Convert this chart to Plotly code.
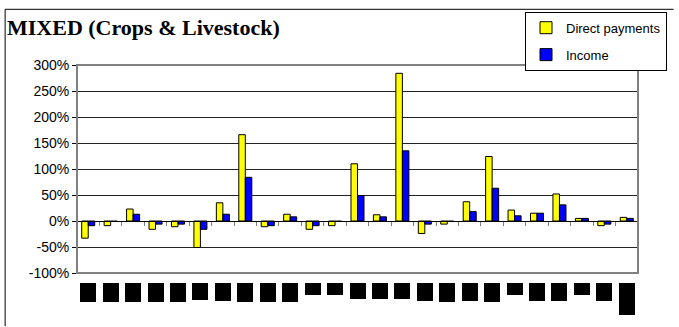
import plotly.graph_objects as go

# Member-state codes (category axis)
countries = ["BE", "CZ", "DK", "DE", "EE", "EL", "ES", "FR", "IE", "IT", "CY", "LV", "LT",
             "LU", "HU", "MT", "NL", "AT", "PL", "PT", "SI", "SK", "FI", "SE", "UK"]

# Change in % for mixed farms
direct_payments = [-33, -9, 23, -16, -11, -51, 35, 166, -11, 13, -16, -9, 110,
                   12, 284, -24, -6, 37, 124, 21, 15, 52, 5, -9, 7]
income = [-9, -1, 13, -6, -6, -16, 13, 84, -9, 8, -9, -1, 49,
          8, 135, -6, -1, 18, 63, 10, 15, 31, 5, -6, 5]

y_ticks = [-100, -50, 0, 50, 100, 150, 200, 250, 300]
y_tick_text = ["-100%", "-50%", "0%", "50%", "100%", "150%", "200%", "250%", "300%"]

# Label box heights (px) for the masked category labels
label_box_h = [19, 19, 19, 19, 19, 17, 18, 19, 19, 19, 12, 12, 16,
               16, 16, 18, 19, 18, 19, 12, 18, 18, 12, 18, 32]

FONT = "Liberation Sans, Arial, sans-serif"

fig = go.Figure()
fig.add_trace(go.Bar(
    x=countries, y=direct_payments, name="Direct payments", legendgroup="a",
    marker=dict(color="#FFFF00", line=dict(color="#000000", width=1)),
))
fig.add_trace(go.Bar(
    x=countries, y=income, name="Income", legendgroup="b",
    marker=dict(color="#0000FF", line=dict(color="#000000", width=1)),
))

W, H = 679, 327
ml, mr, mt, mb = 77, 36, 62, 54
pw, ph = W - ml - mr, H - mt - mb

annotations = []
for c, h in zip(countries, label_box_h):
    annotations.append(dict(
        x=c, xref="x", y=-10 / ph, yref="paper", xanchor="center", yanchor="top",
        text=c, showarrow=False, width=16, height=h, bgcolor="#000000",
        borderpad=0, borderwidth=0, font=dict(color="#000000", size=8, family=FONT),
    ))

fx0 = (4.5 - ml) / pw
fy1 = (H - mb - 5.5) / ph
shapes = [
    # plot-area border
    dict(type="rect", xref="paper", yref="paper", x0=0, x1=1, y0=0, y1=1,
         line=dict(color="#808080", width=2), layer="above"),
    # outer chart frame: left and top edges
    dict(type="line", xref="paper", yref="paper", x0=fx0, x1=fx0,
         y0=(H - mb - H) / ph, y1=fy1, line=dict(color="#000000", width=1)),
    dict(type="line", xref="paper", yref="paper", x0=fx0, x1=(W - ml) / pw,
         y0=fy1, y1=fy1, line=dict(color="#000000", width=1)),
]

fig.update_layout(
    width=W, height=H,
    margin=dict(l=ml, r=mr, t=mt, b=mb),
    paper_bgcolor="white", plot_bgcolor="white",
    barmode="group", bargap=0.42, bargroupgap=0,
    title=dict(text="<b>MIXED (Crops & Livestock)</b>", x=7 / W, xanchor="left",
               xref="container", y=1 - 27 / H, yref="container", yanchor="middle",
               font=dict(family="Liberation Serif, Times New Roman, serif", size=22, color="#000000")),
    legend=dict(x=(529 - ml) / pw, y=(H - mb - 8) / ph, xanchor="left", yanchor="top",
                bgcolor="white", bordercolor="#000000", borderwidth=1,
                font=dict(family=FONT, size=13, color="#000000"),
                traceorder="grouped", tracegroupgap=7, itemwidth=30),
    xaxis=dict(
        type="category", anchor="free", position=0.25,
        showline=True, linecolor="#000000", linewidth=1,
        ticks="outside", tickson="boundaries", ticklen=4, tickcolor="#808080",
        showticklabels=False, showgrid=False, zeroline=False,
    ),
    yaxis=dict(
        range=[-100, 300], tickmode="array", tickvals=y_ticks, ticktext=y_tick_text,
        showline=True, linecolor="#000000", linewidth=1,
        ticks="outside", ticklen=4, tickcolor="#000000",
        showgrid=True, gridcolor="#222222", gridwidth=1, zeroline=False,
        tickfont=dict(family=FONT, size=14, color="#000000"),
    ),
    annotations=annotations,
    shapes=shapes,
)

fig.write_html("out.html")
